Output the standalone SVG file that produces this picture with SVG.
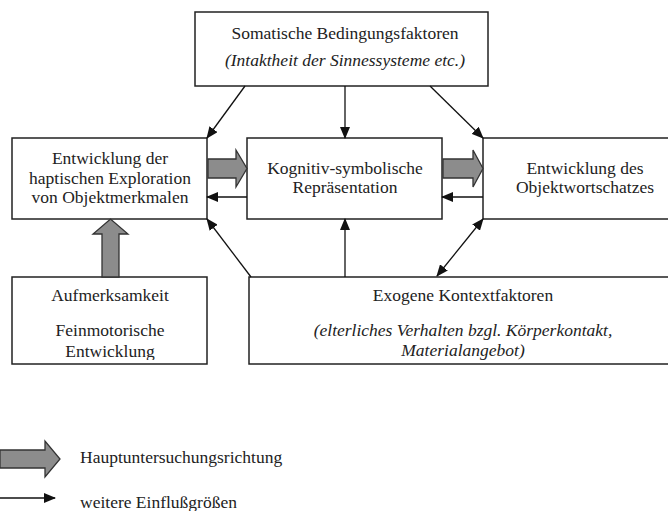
<svg xmlns="http://www.w3.org/2000/svg" width="668" height="511" viewBox="0 0 668 511">
<style>
.box{fill:#fff;stroke:#222;stroke-width:1.5}
text{font-family:'Liberation Serif','DejaVu Serif',serif;font-size:17.5px;fill:#222;text-anchor:middle}
.i{font-style:italic}
.l{text-anchor:start}
.c{stroke:#111;stroke-width:1.3;fill:none}
.big{fill:#8c8c8c;stroke:#333;stroke-width:1.3}
</style>
<defs>
<marker id="ah" markerWidth="12" markerHeight="10" refX="11" refY="5" orient="auto" markerUnits="userSpaceOnUse">
<path d="M0,0 L12,5 L0,10 Z" fill="#111"/>
</marker>
<marker id="as" markerWidth="12" markerHeight="10" refX="1" refY="5" orient="auto" markerUnits="userSpaceOnUse">
<path d="M12,0 L0,5 L12,10 Z" fill="#111"/>
</marker>
<clipPath id="clipBL"><rect x="12" y="277" width="195" height="83"/></clipPath>
</defs>

<g id="somatic">
<rect class="box" x="195" y="12" width="293" height="74"/>
<text x="345" y="39">Somatische Bedingungsfaktoren</text>
<text class="i" x="345" y="66">(Intaktheit der Sinnessysteme etc.)</text>
</g>

<g id="haptic">
<rect class="box" x="12" y="138" width="195" height="81"/>
<text x="110" y="164">Entwicklung der</text>
<text x="110" y="184">haptischen Exploration</text>
<text x="110" y="203">von Objektmerkmalen</text>
</g>

<g id="cognitive">
<rect class="box" x="247" y="138" width="195" height="81"/>
<text x="345" y="174">Kognitiv-symbolische</text>
<text x="345" y="193">Repräsentation</text>
</g>

<g id="vocabulary">
<rect class="box" x="483" y="138" width="200" height="81"/>
<text x="585" y="174">Entwicklung des</text>
<text x="585" y="193">Objektwortschatzes</text>
</g>

<g id="attention">
<rect class="box" x="12" y="277" width="195" height="87"/>
<text x="110" y="301">Aufmerksamkeit</text>
<text x="110" y="336">Feinmotorische</text>
<text x="110" y="357" clip-path="url(#clipBL)">Entwicklung</text>
</g>

<g id="exogenous">
<rect class="box" x="249" y="277" width="434" height="87"/>
<text x="463" y="301">Exogene Kontextfaktoren</text>
<text class="i" x="463" y="336">(elterliches Verhalten bzgl. Körperkontakt,</text>
<text class="i" x="463" y="356">Materialangebot)</text>
</g>

<g id="connectors">
<path class="big" d="M208,159 H236 V150 L247,168.5 L236,187 V178 H208 Z"/>
<path class="big" d="M443,159 H473 V150 L483,168.5 L473,187 V178 H443 Z"/>
<path class="big" d="M102,277 V234 H93 L110.5,219 L128,234 H119 V277 Z"/>
<line class="c" x1="247" y1="197" x2="207" y2="197" marker-end="url(#ah)"/>
<line class="c" x1="483" y1="197" x2="442" y2="197" marker-end="url(#ah)"/>
<line class="c" x1="245" y1="86" x2="207" y2="138" marker-end="url(#ah)"/>
<line class="c" x1="345" y1="86" x2="345" y2="138" marker-end="url(#ah)"/>
<line class="c" x1="430" y1="86" x2="483" y2="138" marker-end="url(#ah)"/>
<line class="c" x1="251" y1="277" x2="207" y2="219" marker-end="url(#ah)"/>
<line class="c" x1="345" y1="277" x2="345" y2="219" marker-end="url(#ah)"/>
<line class="c" x1="437" y1="276" x2="483" y2="219" marker-start="url(#as)" marker-end="url(#ah)"/>
</g>

<g id="legend">
<path class="big" d="M0,450 H45 V441 L60,459 L45,477 V468 H0 Z"/>
<text class="l" x="80" y="463">Hauptuntersuchungsrichtung</text>
<line class="c" x1="0" y1="498" x2="55" y2="498" marker-end="url(#ah)"/>
<text class="l" x="80" y="508">weitere Einflußgrößen</text>
</g>
</svg>
